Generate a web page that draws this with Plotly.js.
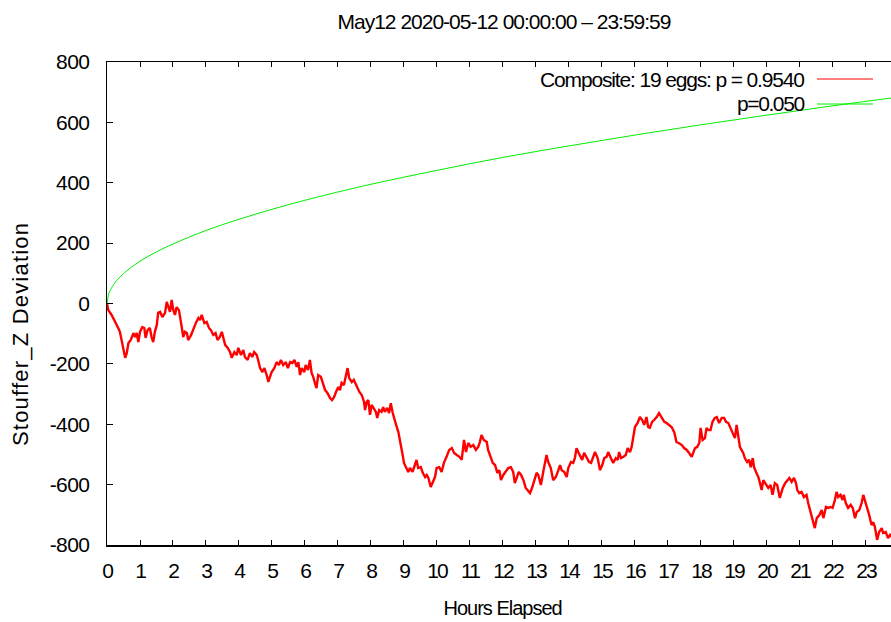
<!DOCTYPE html>
<html>
<head>
<meta charset="utf-8">
<script src="https://cdn.plot.ly/plotly-3.0.1.min.js"></script>
<style>
  html, body { margin: 0; padding: 0; background: #fff; }
  #chart { width: 891px; height: 622px; }
  .main-svg text { letter-spacing: -1px; }
  .main-svg .xtick text { letter-spacing: -2px; }
  .main-svg .ytick text { letter-spacing: -0.6px; }
</style>
</head>
<body>
<div id="chart"></div>
<script>
// ---- Data ----
const titleText = "May12 2020-05-12 00:00:00 \u2013 23:59:59";
const xTitle = "Hours Elapsed";
const yTitle = "Stouffer_Z Deviation";
const compositeLabel = "Composite: 19 eggs: p = 0.9540";
const envelopeLabel = "p=0.050";

const xTickValues = [0,1,2,3,4,5,6,7,8,9,10,11,12,13,14,15,16,17,18,19,20,21,22,23];
const yTickValues = [-800,-600,-400,-200,0,200,400,600,800];

// Composite cumulative deviation (red)
const redHours = [0.00,0.04,0.14,0.22,0.29,0.34,0.39,0.45,0.49,0.55,0.60,0.65,0.72,0.80,0.85,0.90,0.95,1.00,1.07,1.13,1.17,1.23,1.30,1.35,1.40,1.45,1.51,1.55,1.61,1.68,1.76,1.81,1.86,1.91,1.96,2.01,2.06,2.11,2.18,2.24,2.28,2.31,2.36,2.42,2.46,2.55,2.62,2.69,2.77,2.82,2.87,2.95,3.02,3.09,3.15,3.22,3.29,3.35,3.42,3.48,3.52,3.58,3.66,3.73,3.78,3.86,3.93,3.98,4.06,4.13,4.18,4.26,4.33,4.40,4.46,4.54,4.58,4.64,4.71,4.77,4.84,4.89,4.94,4.99,5.07,5.14,5.21,5.27,5.34,5.42,5.48,5.55,5.62,5.68,5.75,5.80,5.85,5.90,5.98,
6.02,6.09,6.15,6.20,6.25,6.30,6.35,6.40,6.48,6.54,6.61,6.68,6.76,6.82,6.88,6.94,7.01,7.06,7.11,7.18,7.24,7.29,7.34,7.42,7.48,7.57,7.65,7.72,7.79,7.82,7.87,7.92,7.97,8.02,8.07,8.15,8.19,8.25,8.32,8.37,8.42,8.49,8.55,8.60,8.66,8.71,8.78,8.83,8.88,8.93,8.96,9.00,9.06,9.13,9.18,9.26,9.33,9.38,9.43,9.51,9.57,9.64,9.69,9.74,9.81,9.87,9.94,9.99,10.07,10.14,10.21,10.29,10.37,10.45,10.52,10.60,10.68,10.75,10.82,10.88,10.95,11.02,11.10,11.18,11.25,11.30,11.35,11.42,11.51,11.55,11.63,11.69,11.76,11.83,11.89,
11.94,12.01,12.08,12.16,12.24,12.31,12.36,12.42,12.48,12.55,12.62,12.69,12.77,12.82,12.89,12.95,13.02,13.07,13.15,13.22,13.27,13.32,13.37,13.45,13.52,13.60,13.68,13.73,13.78,13.86,13.93,13.98,14.06,14.13,14.18,14.23,14.28,14.33,14.40,14.46,14.54,14.61,14.67,14.74,14.79,14.87,14.94,15.01,15.07,15.14,15.19,15.27,15.34,15.42,15.48,15.52,15.58,15.65,15.72,15.78,15.85,15.90,15.95,16.00,16.08,16.15,16.22,16.28,16.35,16.40,16.45,16.52,16.58,16.66,16.73,16.81,16.89,16.96,17.03,17.11,17.19,17.26,17.33,17.42,17.49,17.57,17.64,17.72,
17.82,17.89,17.95,17.99,18.05,18.12,18.17,18.22,18.29,18.35,18.42,18.48,18.55,18.63,18.70,18.76,18.83,18.90,18.98,19.03,19.08,19.13,19.18,19.23,19.28,19.33,19.40,19.46,19.51,19.57,19.61,19.67,19.74,19.79,19.84,19.89,19.97,20.04,20.11,20.17,20.24,20.31,20.39,20.48,20.55,20.62,20.68,20.75,20.82,20.88,20.92,20.98,21.05,21.12,21.20,21.25,21.30,21.35,21.40,21.45,21.51,21.59,21.66,21.71,21.79,21.86,21.93,21.99,22.06,22.11,22.16,22.23,22.29,22.33,22.39,22.46,22.54,22.60,22.67,22.72,22.80,22.87,22.92,22.97,23.02,23.10,23.17,23.22,23.27,23.34,23.40,23.48,23.52,23.60,23.67,23.73,23.80];
const redValues = [0,-22,-38,-55,-65,-81,-94,-121,-147,-180,-164,-131,-121,-98,-111,-98,-128,-94,-78,-81,-114,-88,-81,-111,-128,-94,-71,-31,-28,-45,-31,5,-12,-28,12,-22,-38,-12,-22,-55,-88,-111,-94,-98,-121,-104,-81,-65,-48,-55,-38,-65,-61,-81,-88,-104,-98,-121,-111,-94,-111,-137,-147,-161,-180,-161,-171,-147,-171,-154,-177,-187,-164,-177,-161,-171,-187,-214,-227,-214,-237,-260,-243,-227,-214,-194,-204,-187,-204,-194,-214,-194,-197,-187,-210,-194,-237,-214,-227,
-204,-220,-187,-230,-243,-263,-280,-237,-243,-263,-287,-296,-313,-320,-310,-293,-277,-287,-263,-270,-243,-214,-247,-260,-253,-277,-293,-303,-326,-353,-326,-320,-369,-336,-346,-359,-379,-353,-359,-343,-359,-346,-363,-330,-363,-386,-409,-426,-452,-475,-502,-528,-545,-558,-545,-558,-535,-518,-545,-542,-561,-575,-568,-578,-608,-591,-575,-545,-542,-558,-528,-508,-485,-479,-495,-502,-508,-518,-452,-492,-462,-475,-469,-485,-475,-459,-436,-452,-459,-485,-512,-528,-535,-561,-552,
-585,-568,-558,-545,-542,-558,-595,-575,-558,-568,-585,-611,-624,-628,-608,-585,-561,-568,-601,-558,-535,-502,-525,-545,-585,-575,-552,-535,-552,-558,-575,-545,-525,-528,-512,-479,-492,-502,-518,-495,-512,-525,-528,-508,-492,-512,-552,-535,-512,-508,-492,-512,-528,-512,-518,-492,-512,-508,-502,-479,-492,-475,-442,-409,-396,-376,-386,-402,-376,-409,-412,-392,-386,-376,-363,-376,-392,-396,-402,-409,-426,-459,-462,-469,-479,-485,-495,-508,
-479,-475,-462,-412,-452,-446,-412,-419,-419,-392,-379,-376,-396,-379,-379,-392,-396,-412,-429,-446,-402,-446,-475,-485,-495,-512,-525,-518,-542,-512,-542,-558,-575,-595,-618,-585,-601,-611,-601,-634,-595,-601,-644,-611,-595,-585,-578,-591,-578,-595,-618,-628,-624,-641,-634,-661,-684,-707,-727,-744,-711,-701,-684,-711,-674,-677,-674,-677,-651,-624,-641,-634,-651,-634,-661,-677,-667,-677,-711,-691,-684,-661,-634,-651,-674,-701,-734,-724,-740,-783,-757,-744,-760,-757,-777,-767,-775];

// p = 0.05 envelope (green)
const greenHours = [0,0.05,0.1,0.25,0.5,1,1.5,2,3,4,5,6,8,10,12,14,16,18,20,22,24];
const greenValues = [0,31,44,70,99,140,171,197,242,279,312,342,395,441,484,522,558,592,624,655,684];

// ---- Chart ----
const FONT = "Liberation Sans, Arial, sans-serif";
const plotTop = 62, plotBottom = 545, plotLeft = 107, plotRight = 891;
const ph = plotBottom - plotTop, pw = plotRight - plotLeft;
const py = v => 1 - (v - plotTop) / ph;   // pixel row -> paper y (layout helper only)
const px = v => (v - plotLeft) / pw;      // pixel col -> paper x (layout helper only)
const spaced = (t, s) => "<span style='letter-spacing:" + s + "px'>" + t + "</span>";

const traces = [
  { x: redHours, y: redValues, type: 'scatter', mode: 'lines',
    line: { color: '#ff0000', width: 2.4 }, name: compositeLabel, hoverinfo: 'skip' },
  { x: greenHours, y: greenValues, type: 'scatter', mode: 'lines',
    line: { color: '#00ee00', width: 1, shape: 'spline', smoothing: 1.0 }, name: envelopeLabel, hoverinfo: 'skip' }
];

const layout = {
  width: 891, height: 622,
  margin: { l: plotLeft, r: 891 - plotRight, t: plotTop, b: 622 - plotBottom, pad: 0 },
  paper_bgcolor: '#ffffff', plot_bgcolor: '#ffffff',
  showlegend: false,
  font: { family: FONT, size: 21, color: '#000' },
  title: { text: titleText, x: 0.5, xref: 'paper', xanchor: 'center',
           y: 1 - 22 / 622, yref: 'container', yanchor: 'middle',
           font: { family: FONT, size: 21, color: '#000' } },
  xaxis: {
    range: [0, 23.76], tickvals: xTickValues, ticktext: xTickValues.map(String),
    ticks: 'inside', ticklen: 5, tickwidth: 1, tickcolor: '#000',
    showline: true, linecolor: '#000', linewidth: 1.5, mirror: 'allticks',
    showgrid: false, zeroline: false, ticklabelstandoff: 6,
    tickfont: { family: FONT, size: 21, color: '#000' }, fixedrange: true
  },
  yaxis: {
    range: [-800, 800], tickvals: yTickValues, ticktext: yTickValues.map(String),
    ticks: 'inside', ticklen: 6, tickwidth: 1, tickcolor: '#000',
    showline: true, linecolor: '#000', linewidth: 1.5, mirror: false,
    showgrid: false, zeroline: false, ticklabelstandoff: 12,
    tickfont: { family: FONT, size: 21, color: '#000' }, fixedrange: true
  },
  annotations: [
    { text: xTitle, xref: 'paper', yref: 'paper', x: px(502), y: py(608),
      xanchor: 'center', yanchor: 'middle', showarrow: false,
      font: { family: FONT, size: 20, color: '#000' } },
    { text: spaced(yTitle, 1.2), xref: 'paper', yref: 'paper', x: px(20), y: py(334),
      xanchor: 'center', yanchor: 'middle', textangle: -90, showarrow: false,
      font: { family: FONT, size: 22, color: '#000' } },
    { text: spaced(compositeLabel, -1.15), xref: 'paper', yref: 'paper', x: px(806), y: py(79),
      xanchor: 'right', yanchor: 'middle', showarrow: false,
      font: { family: FONT, size: 21, color: '#000' } },
    { text: spaced(envelopeLabel, -1.4), xref: 'paper', yref: 'paper', x: px(806), y: py(104),
      xanchor: 'right', yanchor: 'middle', showarrow: false,
      font: { family: FONT, size: 21, color: '#000' } }
  ],
  shapes: [
    { type: 'line', xref: 'paper', yref: 'paper', x0: px(817), x1: px(873), y0: py(79), y1: py(79),
      line: { color: '#ff0000', width: 1 } },
    { type: 'line', xref: 'paper', yref: 'paper', x0: px(817), x1: px(873), y0: py(104), y1: py(104),
      line: { color: '#00ee00', width: 1 } }
  ]
};

Plotly.newPlot('chart', traces, layout, { staticPlot: true, displayModeBar: false }).then(() => {
  // nudge the title to the reference's centre
  const t = document.querySelector('.gtitle');
  if (t) t.setAttribute('transform', 'translate(5,0)');
});
</script>
</body>
</html>
